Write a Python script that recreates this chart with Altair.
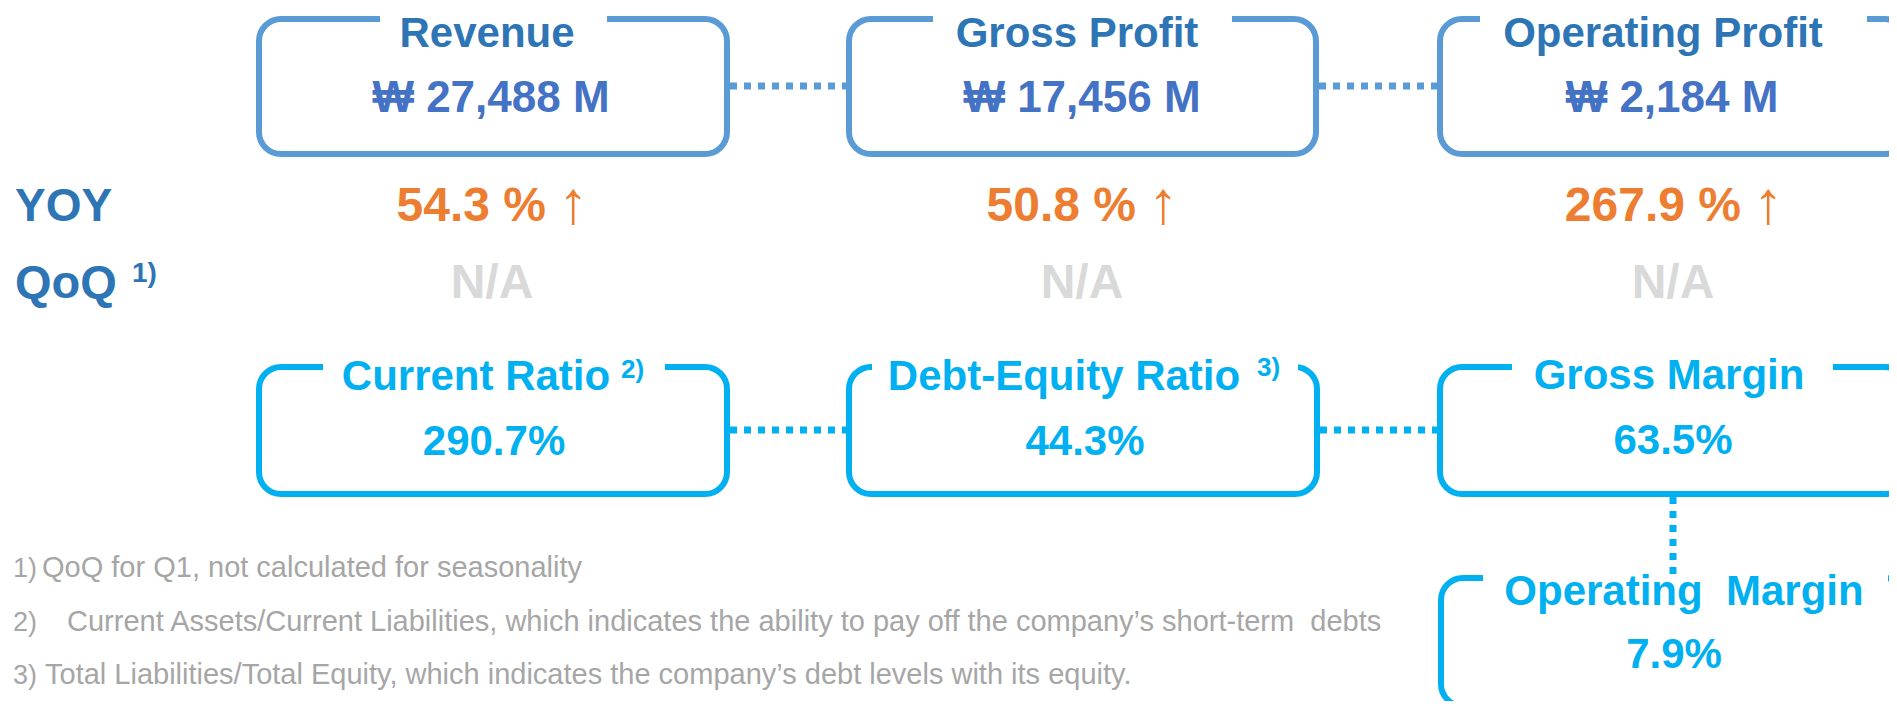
import altair as alt
import pandas as pd

# ---------------- content ----------------
top_titles = ["Revenue", "Gross Profit", "Operating Profit"]
top_values = ["₩ 27,488 M", "₩ 17,456 M", "₩ 2,184 M"]
yoy_values = ["54.3 %", "50.8 %", "267.9 %"]
yoy_arrow = ["↑", "↑", "↑"]
qoq_values = ["N/A", "N/A", "N/A"]
row_labels = ["YOY", "QoQ"]
row_notes = ["1)"]
ratio_titles = ["Current Ratio", "Debt-Equity Ratio", "Gross Margin", "Operating\u00a0 Margin"]
ratio_notes = ["2)", "3)"]
ratio_values = ["290.7%", "44.3%", "63.5%", "7.9%"]
foot_nums = ["1)", "2)", "3)"]
foot_texts = [
    "QoQ for Q1, not calculated for seasonality",
    "Current Assets/Current Liabilities, which indicates the ability to pay off the company\u2019s short-term\u00a0 debts",
    "Total Liabilities/Total Equity, which indicates the company\u2019s debt levels with its equity.",
]

# ---------------- layout (page pixel coordinates) ----------------
top_x1 = [259, 849, 1440]
top_x2 = [727, 1316, 1907]
top_y1, top_y2 = 19, 154
top_gap1 = [380, 933, 1480]
top_gap2 = [607, 1232, 1867]
top_title_x = [487, 1077, 1663]
top_value_x = [491, 1082, 1672]

low_x1 = [259, 849, 1440, 1441]
low_x2 = [727, 1317, 1907, 1907]
low_y1 = [367, 367, 367, 578]
low_y2 = [494, 494, 494, 706]
low_gap1 = [323, 872, 1512, 1483]
low_gap2 = [665, 1298, 1833, 1888]
low_title_x = [476, 1064, 1669, 1684]
low_title_y = [390, 390, 389, 605]
low_value_x = [494, 1085, 1673, 1674]
low_value_y = [455, 455, 454, 668]
low_note_x = [621, 1257]
low_note_y = [378, 376]

yoy_right_x = [546, 1136, 1741]
qoq_x = [492, 1082, 1673]

foot_num_x = [13, 13, 13]
foot_text_x = [42, 67, 45]
foot_y = [577, 631, 684]

W, H = 1881, 693
xs = alt.Scale(domain=[8, 8 + W], range=[0, W], nice=False, zero=False)
ys = alt.Scale(domain=[8, 8 + H], range=[0, H], nice=False, zero=False)
FONT = "Liberation Sans"

def X(f="x"):
    return alt.X(f"{f}:Q", scale=xs, axis=None)

def Y(f="y"):
    return alt.Y(f"{f}:Q", scale=ys, axis=None)

DARK = "#2E75B6"
VAL = "#4472C4"
TOPLINE = "#5B9BD5"
CYAN = "#00B0F0"
ORANGE = "#ED7D31"
GREY = "#D9D9D9"
FOOT = "#A6A6A6"

# boxes
boxes = pd.DataFrame({
    "x": top_x1 + low_x1, "x2": top_x2 + low_x2,
    "y": [top_y1] * 3 + low_y1, "y2": [top_y2] * 3 + low_y2,
    "c": ["top"] * 3 + ["low"] * 4,
})
box_layer = alt.Chart(boxes).mark_rect(cornerRadius=22, fill="white", strokeWidth=6).encode(
    x=X(), x2=alt.X2("x2"), y=Y(), y2=alt.Y2("y2"),
    stroke=alt.Stroke("c:N", scale=alt.Scale(domain=["top", "low"], range=[TOPLINE, CYAN]), legend=None),
)

masks = pd.DataFrame({
    "x": top_gap1 + low_gap1, "x2": top_gap2 + low_gap2,
    "y": [top_y1 - 8] * 3 + [v - 8 for v in low_y1],
    "y2": [top_y1 + 8] * 3 + [v + 8 for v in low_y1],
})
mask_layer = alt.Chart(masks).mark_rect(fill="white", stroke=None).encode(
    x=X(), x2=alt.X2("x2"), y=Y(), y2=alt.Y2("y2"))

# connectors
hcon = pd.DataFrame({
    "x": [top_x2[0] + 3, top_x2[1] + 3, low_x2[0] + 3, low_x2[1] + 3],
    "x2": [top_x1[1] - 3, top_x1[2] - 3, low_x1[1] - 3, low_x1[2] - 3],
    "y": [86, 86, 430, 430],
    "c": ["top", "top", "low", "low"],
})
hcon_layer = alt.Chart(hcon).mark_rule(strokeWidth=7, strokeDash=[7, 7]).encode(
    x=X(), x2=alt.X2("x2"), y=Y(),
    color=alt.Color("c:N", scale=alt.Scale(domain=["top", "low"], range=[TOPLINE, CYAN]), legend=None),
)
vcon = pd.DataFrame({"x": [1673], "y": [low_y2[2] + 3], "y2": [low_y1[3] - 3]})
vcon_layer = alt.Chart(vcon).mark_rule(strokeWidth=7, strokeDash=[7, 7], color=CYAN).encode(
    x=X(), y=Y(), y2=alt.Y2("y2"))

def text_layer(xv, yv, tv, size, color, weight="bold", align="center", font=FONT):
    df = pd.DataFrame({"x": xv, "y": yv, "t": tv})
    return alt.Chart(df).mark_text(
        align=align, baseline="alphabetic", font=font, fontSize=size,
        fontWeight=weight, color=color,
    ).encode(x=X(), y=Y(), text="t:N")

layers = [box_layer, mask_layer, hcon_layer, vcon_layer]
layers.append(text_layer(top_title_x, [47] * 3, top_titles, 42, DARK))
layers.append(text_layer(top_value_x, [112] * 3, top_values, 44, VAL))
layers.append(text_layer([15], [221], [row_labels[0]], 46, DARK, align="left"))
layers.append(text_layer([15], [298], [row_labels[1]], 47, DARK, align="left"))
layers.append(text_layer([132], [282], row_notes, 28, DARK, align="left"))
layers.append(text_layer(yoy_right_x, [221] * 3, yoy_values, 48, ORANGE, align="right"))
layers.append(text_layer([v + 12 for v in yoy_right_x], [223] * 3, yoy_arrow, 60, ORANGE,
                         weight="normal", align="left"))
layers.append(text_layer(qoq_x, [298] * 3, qoq_values, 48, GREY))
layers.append(text_layer(low_title_x, low_title_y, ratio_titles, 42, CYAN))
layers.append(text_layer(low_note_x, low_note_y, ratio_notes, 26, CYAN, align="left"))
layers.append(text_layer(low_value_x, low_value_y, ratio_values, 42, CYAN))
layers.append(text_layer(foot_num_x, foot_y, foot_nums, 27, FOOT, weight="normal", align="left"))
layers.append(text_layer(foot_text_x, foot_y, foot_texts, 29, FOOT, weight="normal", align="left"))

chart = alt.layer(*layers).properties(
    width=W, height=H, padding=0,
    autosize=alt.AutoSizeParams(type="none"),
    background="white",
).configure_view(stroke=None)

chart.save("out.html", embed_options={"renderer": "svg", "actions": False})
